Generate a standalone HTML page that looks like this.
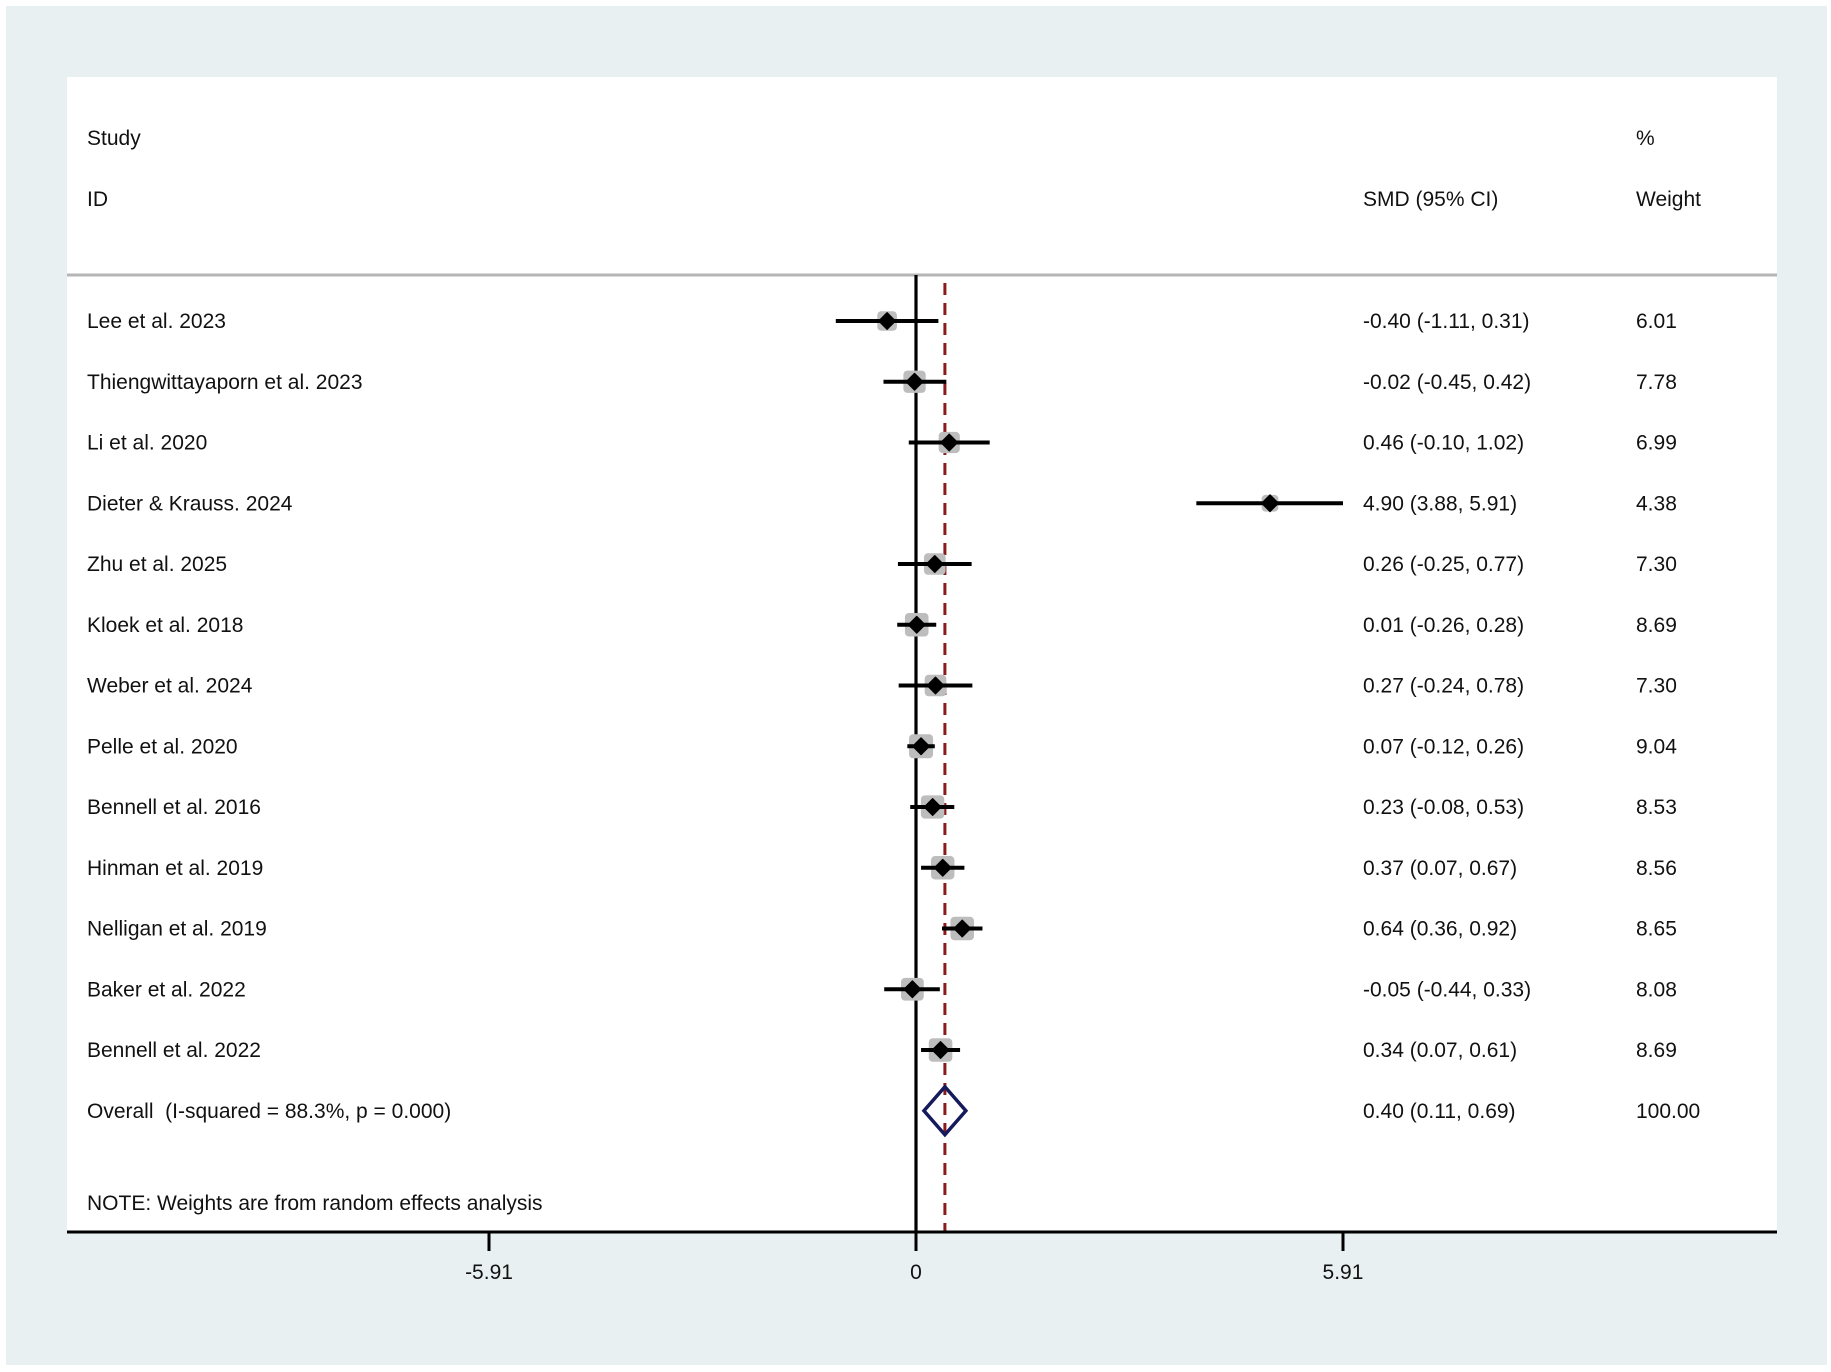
<!DOCTYPE html>
<html><head><meta charset="utf-8"><style>
html,body{margin:0;padding:0;background:#fff;}
svg{display:block;}
text{font-family:"Liberation Sans",Arial,sans-serif;font-size:21px;fill:#111;}
</style></head><body>
<svg id="chart" width="1831" height="1372" viewBox="0 0 1831 1372" xmlns="http://www.w3.org/2000/svg">
<rect x="6" y="6" width="1821" height="1359" fill="#e9f0f2"/>
<rect x="67" y="77" width="1710" height="1155" fill="#ffffff"/>
<text x="87" y="145">Study</text>
<text x="87" y="206">ID</text>
<text x="1363" y="206">SMD (95% CI)</text>
<text x="1636" y="145">%</text>
<text x="1636" y="206">Weight</text>
<line x1="67" y1="275" x2="1777" y2="275" stroke="#b5b5b5" stroke-width="3"/>
<g id="marks"></g>
<text x="87" y="1210">NOTE: Weights are from random effects analysis</text>
</svg>
<script>
const studies = ["Lee et al. 2023","Thiengwittayaporn et al. 2023","Li et al. 2020","Dieter & Krauss. 2024","Zhu et al. 2025","Kloek et al. 2018","Weber et al. 2024","Pelle et al. 2020","Bennell et al. 2016","Hinman et al. 2019","Nelligan et al. 2019","Baker et al. 2022","Bennell et al. 2022"];
const smd = [-0.40,-0.02,0.46,4.90,0.26,0.01,0.27,0.07,0.23,0.37,0.64,-0.05,0.34];
const lower = [-1.11,-0.45,-0.10,3.88,-0.25,-0.26,-0.24,-0.12,-0.08,0.07,0.36,-0.44,0.07];
const upper = [0.31,0.42,1.02,5.91,0.77,0.28,0.78,0.26,0.53,0.67,0.92,0.33,0.61];
const weights = [6.01,7.78,6.99,4.38,7.30,8.69,7.30,9.04,8.53,8.56,8.65,8.08,8.69];
const overall = {est:0.40, lo:0.11, hi:0.69, label:"Overall  (I-squared = 88.3%, p = 0.000)", weight:"100.00"};
const ticks = [-5.91, 0, 5.91];
const tickLabels = ["-5.91","0","5.91"];

const NS="http://www.w3.org/2000/svg";
const g=document.getElementById('marks');
const x=v=>916+v*72.25;
const rowY=i=>321+i*60.75;
const axisY=1232;
function el(tag,attrs,parent){const e=document.createElementNS(NS,tag);for(const k in attrs)e.setAttribute(k,attrs[k]);(parent||g).appendChild(e);return e;}
const f=v=>v.toFixed(2);

let z=el('line',{x1:x(0),y1:275,x2:x(0),y2:axisY,stroke:'#000','stroke-width':3.2});


let d=el('line',{x1:x(overall.est),y1:283,x2:x(overall.est),y2:axisY,stroke:'#8b1a1a','stroke-width':3,'stroke-dasharray':'12 8'});



studies.forEach((s,i)=>{
  const y=rowY(i);
  const grp=el('g',{});
  
  
  const side=8*Math.sqrt(weights[i]);
  const sq=el('rect',{x:x(smd[i])-side/2,y:y-side/2,width:side,height:side,rx:4,fill:'#bdbdbd'},grp);
  
  
  const ci=el('line',{x1:x(lower[i]),y1:y,x2:x(upper[i]),y2:y,stroke:'#000','stroke-width':4},grp);
  
  
  const px=x(smd[i]);
  const pt=el('polygon',{points:`${px-8.5},${y} ${px},${y-8.5} ${px+8.5},${y} ${px},${y+8.5}`,fill:'#000',stroke:'#000','stroke-width':1,'stroke-linejoin':'round'},grp);
  
  
  const t1=el('text',{x:87,y:y+7},grp);t1.textContent=s;
  
  
  const t2=el('text',{x:1363,y:y+7},grp);t2.textContent=`${f(smd[i])} (${f(lower[i])}, ${f(upper[i])})`;
  
  
  const t3=el('text',{x:1636,y:y+7},grp);t3.textContent=f(weights[i]);
  
  
});

const oy=rowY(studies.length);
const dia=el('polygon',{points:`${x(overall.lo)},${oy} ${x(overall.est)},${oy-24} ${x(overall.hi)},${oy} ${x(overall.est)},${oy+24}`,fill:'none',stroke:'#141a5c','stroke-width':3.5});


const o1=el('text',{x:87,y:oy+7});o1.textContent=overall.label;o1.style.whiteSpace='pre';


const o2=el('text',{x:1363,y:oy+7});o2.textContent=`${f(overall.est)} (${f(overall.lo)}, ${f(overall.hi)})`;


const o3=el('text',{x:1636,y:oy+7});o3.textContent=overall.weight;



const ax=el('line',{x1:67,y1:axisY,x2:1777,y2:axisY,stroke:'#000','stroke-width':3});


ticks.forEach((t,i)=>{
  const tk=el('line',{x1:x(t),y1:axisY,x2:x(t),y2:axisY+19,stroke:'#000','stroke-width':3});
  
  
  const tl=el('text',{x:x(t),y:1279,'text-anchor':'middle'});tl.textContent=tickLabels[i];
  
  
});
</script>
</body></html>
